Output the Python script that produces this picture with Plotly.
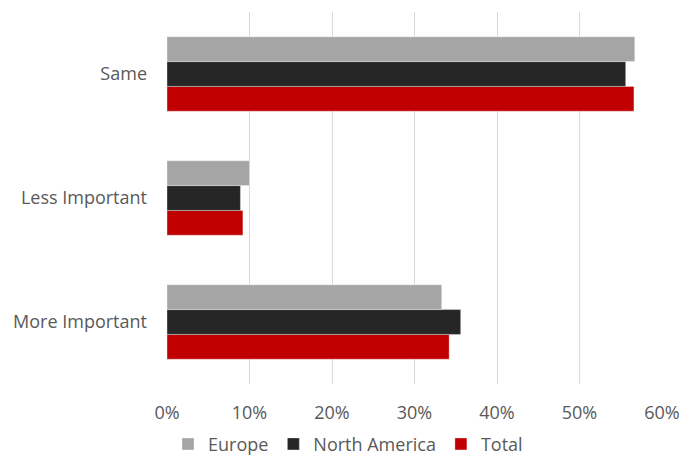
import plotly.graph_objects as go

categories = ["More Important", "Less Important", "Same"]
europe = [0.333, 0.100, 0.567]
north_america = [0.356, 0.089, 0.556]
total = [0.342, 0.092, 0.566]

series = [
    ("Total", total, "#C00000", 3),
    ("North America", north_america, "#262626", 2),
    ("Europe", europe, "#A5A5A5", 1),
]

fig = go.Figure()
for name, vals, color, rank in series:
    fig.add_trace(go.Bar(
        y=categories, x=vals, name=name, orientation="h",
        marker=dict(color=color, line=dict(color="rgba(255,255,255,0.35)", width=1)),
        legendrank=rank,
    ))

font_family = "'Open Sans', sans-serif"
fig.update_layout(
    width=696, height=457,
    margin=dict(l=167, r=34, t=12, b=73, autoexpand=False),
    barmode="group", bargap=0.4, bargroupgap=0,
    plot_bgcolor="white", paper_bgcolor="white",
    font=dict(family=font_family, size=18, color="#595959"),
    legend=dict(orientation="h", xref="container", yref="container",
                x=0.5, xanchor="center", y=0.028, yanchor="middle",
                font=dict(size=18, color="#595959"), itemwidth=30,
                traceorder="normal", tracegroupgap=0),
    xaxis=dict(range=[0, 0.6], dtick=0.1, tickformat=".0%",
               showgrid=True, gridcolor="#D9D9D9", gridwidth=1,
               zeroline=False, showline=False, ticklabelstandoff=16,
               tickfont=dict(size=18, color="#595959")),
    yaxis=dict(categoryorder="array", categoryarray=categories,
               showgrid=False, showline=False, ticklabelstandoff=19,
               tickfont=dict(size=18, color="#595959")),
)

fig.write_html("out.html")
